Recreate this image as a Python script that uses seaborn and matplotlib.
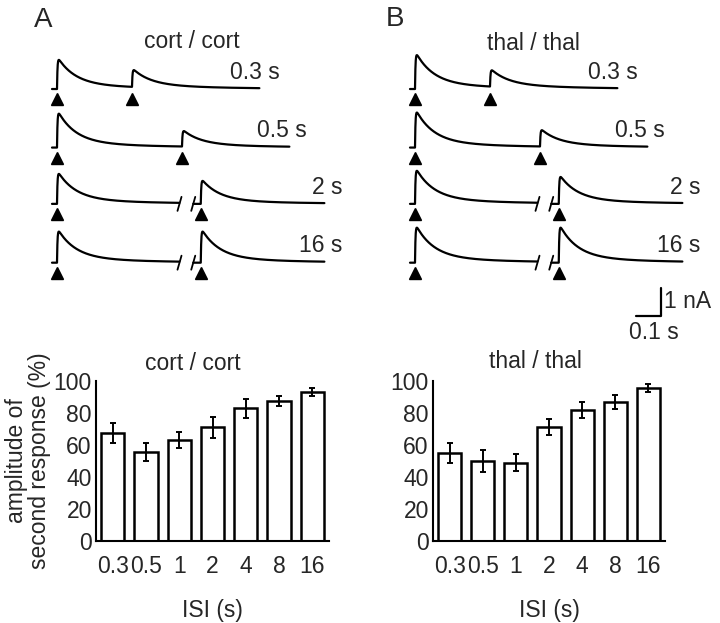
import numpy as np
import seaborn as sns
import matplotlib.pyplot as plt

# bar chart data (mean +/- sem, % of first response)
isi_labels = ["0.3", "0.5", "1", "2", "4", "8", "16"]
cort_mean = [67.5, 55.5, 63, 71, 83, 87.5, 93]
cort_sem = [6, 5.5, 5, 6.5, 6, 3, 2.5]
thal_mean = [55, 50, 49, 71, 82, 87, 95.5]
thal_sem = [6, 7, 5.5, 5, 5, 4.5, 2.5]

# example traces: amplitudes (nA) of first and second response for each ISI
trace_labels = ["0.3 s", "0.5 s", "2 s", "16 s"]
trace_isi = [0.3, 0.5, 2, 16]
cort_amp1 = [1.04, 1.21, 1.07, 1.11]
cort_amp2 = [0.6, 0.55, 0.82, 1.11]
thal_amp1 = [1.21, 1.25, 1.18, 1.25]
thal_amp2 = [0.58, 0.58, 0.96, 1.25]
tau_fast, tau_slow, frac_fast, tau_rise = 0.07, 0.3, 0.85, 0.002

sns.set_style("white")
plt.rcParams['font.family'] = ['Liberation Sans', 'DejaVu Sans']

W, H = 720, 623
fig = plt.figure(figsize=(7.2, 6.23), dpi=100)


def px_axes(x0, y0, x1, y1):
    return fig.add_axes([x0 / W, 1 - y1 / H, (x1 - x0) / W, (y1 - y0) / H])


def epsc(t, amp):
    t = np.clip(t, 0, None)
    decay = frac_fast * np.exp(-t / tau_fast) + (1 - frac_fast) * np.exp(-t / tau_slow)
    shape = decay * (1 - np.exp(-t / tau_rise))
    tt = np.linspace(0, 0.05, 2000)
    norm = ((frac_fast * np.exp(-tt / tau_fast) + (1 - frac_fast) * np.exp(-tt / tau_slow))
            * (1 - np.exp(-tt / tau_rise))).max()
    return amp * shape / norm


row_offset = [0, -2.09, -4.1, -6.2]
trace_end = [0.81, 0.93, 1.07, 1.07]
label_x = [0.89, 1.0, 1.14, 1.14]
broken_stim = 0.575
brk1, brk2 = 0.49, 0.545


def draw_traces(ax, amp1, amp2):
    for i in range(4):
        off = row_offset[i]
        if trace_isi[i] < 1:
            t = np.arange(-0.02, trace_end[i], 0.0005)
            y = epsc(t, amp1[i]) + epsc(t - trace_isi[i], amp2[i])
            ax.plot(t, y + off, color='black', lw=1.6)
            stim2 = trace_isi[i]
        else:
            t1 = np.arange(-0.02, brk1, 0.0005)
            ax.plot(t1, epsc(t1, amp1[i]) + off, color='black', lw=1.6)
            t2 = np.arange(brk2, trace_end[i], 0.0005)
            ax.plot(t2, epsc(t2 - broken_stim, amp2[i]) + off, color='black', lw=1.6)
            for bx in (brk1, brk2):
                ax.plot([bx - 0.008, bx + 0.008], [off - 0.25, off + 0.25],
                        color='black', lw=1.3)
            stim2 = broken_stim
        ax.plot([0, stim2], [off - 0.36, off - 0.36], '^', color='black',
                ms=8, clip_on=False)
        ax.text(label_x[i], off + 0.6, trace_labels[i], ha='right', va='center',
                fontsize=16.5)
    ax.set_xlim(-0.068, 1.212)
    ax.set_ylim(-8.96, 1.75)
    ax.axis('off')


axA = px_axes(40, 40, 360, 340)
draw_traces(axA, cort_amp1, cort_amp2)
axB = px_axes(398, 40, 718, 340)
draw_traces(axB, thal_amp1, thal_amp2)

# scale bar
axB.plot([0.885, 0.985, 0.985], [-8.1, -8.1, -7.1], color='black', lw=1.6)
axB.text(0.997, -7.6, "1 nA", ha='left', va='center', fontsize=16.5)
axB.text(0.956, -8.71, "0.1 s", ha='center', va='center', fontsize=16.5)


def draw_bars(ax, means, sems):
    sns.barplot(x=isi_labels, y=means, order=isi_labels, ax=ax, color='white',
                edgecolor='black', linewidth=1.8, width=0.7, saturation=1)
    ax.errorbar(range(len(means)), means, yerr=sems, fmt='none', ecolor='black',
                elinewidth=1.4, capsize=2, capthick=1.4)
    ax.set_xlim(-0.5, 6.5)
    ax.set_ylim(0, 100)
    ax.set_yticks([0, 20, 40, 60, 80, 100])
    ax.set_xticks(np.arange(-0.5, 7, 1), minor=True)
    ax.tick_params(axis='x', which='major', length=0, pad=10, labelsize=16.5)
    ax.tick_params(axis='x', which='minor', length=3, width=1.2, direction='out')
    ax.tick_params(axis='y', length=0, pad=3, labelsize=16.5)
    sns.despine(ax=ax)
    for s in ('left', 'bottom'):
        ax.spines[s].set_linewidth(1.5)
        ax.spines[s].set_color('black')
    ax.set_xlabel("ISI (s)", fontsize=16.5, labelpad=15)


bA = px_axes(96, 381, 329, 541)
draw_bars(bA, cort_mean, cort_sem)
bA.set_ylabel("amplitude of\nsecond response (%)", fontsize=16.5, linespacing=1.0,
              labelpad=2)
bB = px_axes(433, 381, 665, 541)
draw_bars(bB, thal_mean, thal_sem)
bB.set_ylabel("")

fig.text(43 / W, 1 - 20 / H, "A", fontsize=20, ha='center', va='center')
fig.text(395 / W, 1 - 19 / H, "B", fontsize=20, ha='center', va='center')
fig.text(192 / W, 1 - 41 / H, "cort / cort", fontsize=16.5, ha='center', va='center')
fig.text(533 / W, 1 - 43 / H, "thal / thal", fontsize=16.5, ha='center', va='center')
fig.text(193 / W, 1 - 363 / H, "cort / cort", fontsize=16.5, ha='center', va='center')
fig.text(535 / W, 1 - 362 / H, "thal / thal", fontsize=16.5, ha='center', va='center')

fig.savefig("out.png", dpi=100)
